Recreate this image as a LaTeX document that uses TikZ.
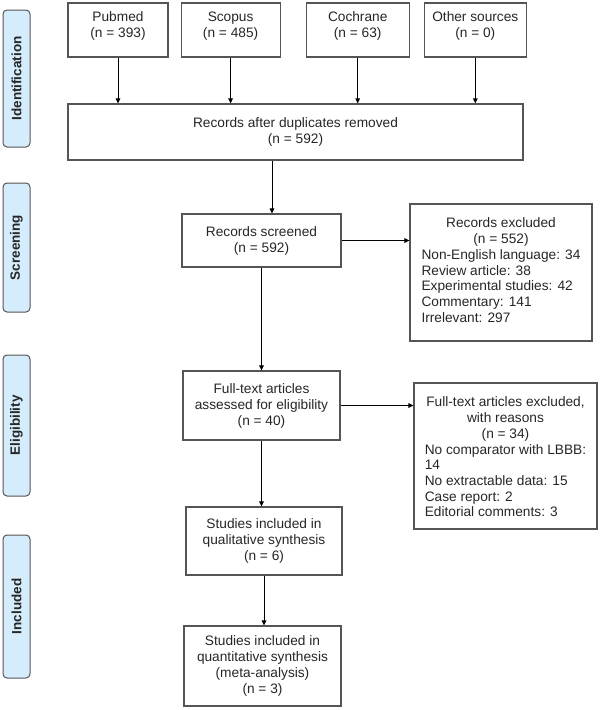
\documentclass[tikz,border=0pt]{standalone}
\usepackage{fontspec}
\setmainfont{Liberation Sans}
\usetikzlibrary{positioning,arrows.meta}
\definecolor{boxgray}{RGB}{85,85,85}
\definecolor{phaseblue}{RGB}{212,236,252}

\begin{document}
\begin{tikzpicture}[x=1pt, y=-1pt,
		font=\fontsize{13.7}{16}\selectfont, text=black!85,
		box/.style={draw=boxgray, line width=1.1pt, inner sep=0pt},
		txt/.style={inner sep=0pt, align=center},
		phase/.style={draw=boxgray, line width=1pt, fill=phaseblue, rounded corners=4pt, rotate=90,
			minimum height=27pt, font=\fontsize{13.5}{16}\selectfont\bfseries},
		arr/.style={-{Triangle[length=5pt, width=4.5pt]}, line width=1pt}]
			
			\useasboundingbox (0,0) rectangle (600,710);
			
			% Phases
			\node[phase, minimum width=137pt] (ident)  at (16.5,78.5)  {Identification};
			\node[phase, minimum width=129pt] (screen) at (16.5,247.5) {Screening};
			\node[phase, minimum width=141pt] (elig)   at (16.5,425.5) {Eligibility};
			\node[phase, minimum width=143pt] (incl)   at (16.5,606.5) {Included};
			
			% Sources
			\node[box, minimum width=100pt, minimum height=54pt]                      (pubmed)   at (118,30) {};
			\node[box, minimum width=99pt, minimum height=54pt, right=12pt of pubmed]   (scopus)   {};
			\node[box, minimum width=103pt, minimum height=54pt, right=25pt of scopus]  (cochrane) {};
			\node[box, minimum width=102pt, minimum height=54pt, right=14pt of cochrane] (other)    {};
			
			\node[txt, below=9pt of pubmed.north]   (pubmedtxt)   {Pubmed\\(n = 393)};
			\node[txt, below=9pt of scopus.north]   (scopustxt)   {Scopus\\(n = 485)};
			\node[txt, below=9pt of cochrane.north] (cochranetxt) {Cochrane\\(n = 63)};
			\node[txt, below=9pt of other.north]    (othertxt)    {Other sources\\(n = 0)};
			
			% Flow
			\node[box, align=center, minimum width=455pt, minimum height=56pt] (dedup) at (295.5,132)
				{Records after duplicates removed\\(n = 592)};
			\node[box, align=center, minimum width=159pt, minimum height=53pt] (screened) at (261.5,240.5)
				{Records screened\\(n = 592)};
			\node[box, align=center, minimum width=157pt, minimum height=69pt] (fulltext) at (261.5,405.5)
				{Full-text articles\\assessed for eligibility\\(n = 40)};
			\node[box, align=center, minimum width=156pt, minimum height=68pt] (qual) at (264,541)
				{Studies included in\\qualitative synthesis\\(n = 6)};
			\node[box, align=center, minimum width=157pt, minimum height=80pt] (quant) at (262.5,666)
				{Studies included in\\quantitative synthesis\\(meta-analysis)\\(n = 3)};
			
			% Exclusions
			\node[box, minimum width=182pt, minimum height=137pt] (excl) at (501,272.5) {};
			\node[inner sep=0pt, below=13pt of excl.north, font=\fontsize{13.7}{15.8}\selectfont] (excltxt) {\begin{tabular}{@{}l@{}}
					\multicolumn{1}{@{}c@{}}{Records excluded}\\
					\multicolumn{1}{@{}c@{}}{(n = 552)}\\
					Non-English language: 34\\
					Review article: 38\\
					Experimental studies: 42\\
					Commentary: 141\\
					Irrelevant: 297
				\end{tabular}};
			\node[box, minimum width=183pt, minimum height=146pt] (ftexcl) at (505.5,456) {};
			\node[inner sep=0pt, font=\fontsize{13.7}{15.7}\selectfont] (ftexcltxt) at ([yshift=-2.8pt]ftexcl.center) {\begin{tabular}{@{}l@{}}
					\multicolumn{1}{@{}c@{}}{Full-text articles excluded,}\\
					\multicolumn{1}{@{}c@{}}{with reasons}\\
					\multicolumn{1}{@{}c@{}}{(n = 34)}\\
					No comparator with LBBB:\\
					14\\
					No extractable data: 15\\
					Case report: 2\\
					Editorial comments: 3
				\end{tabular}};
			
			% Connect the nodes
			\draw[arr] (pubmed)   -- (pubmed |- dedup.north);
			\draw[arr] (scopus)   -- (scopus |- dedup.north);
			\draw[arr] (cochrane) -- (cochrane |- dedup.north);
			\draw[arr] (other)    -- (other |- dedup.north);
			\coordinate (scrin) at ([xshift=10.5pt]screened.north);
			\draw[arr] (dedup.south -| scrin) -- (scrin);
			\draw[arr] (screened.east) -- (screened.east -| excl.west);
			\draw[arr] (screened) -- (fulltext);
			\draw[arr] (fulltext.east) -- (fulltext.east -| ftexcl.west);
			\draw[arr] (fulltext.south) -- (fulltext.south |- qual.north);
			\draw[arr] (qual.south) -- (qual.south |- quant.north);
			
\end{tikzpicture}
\end{document}
